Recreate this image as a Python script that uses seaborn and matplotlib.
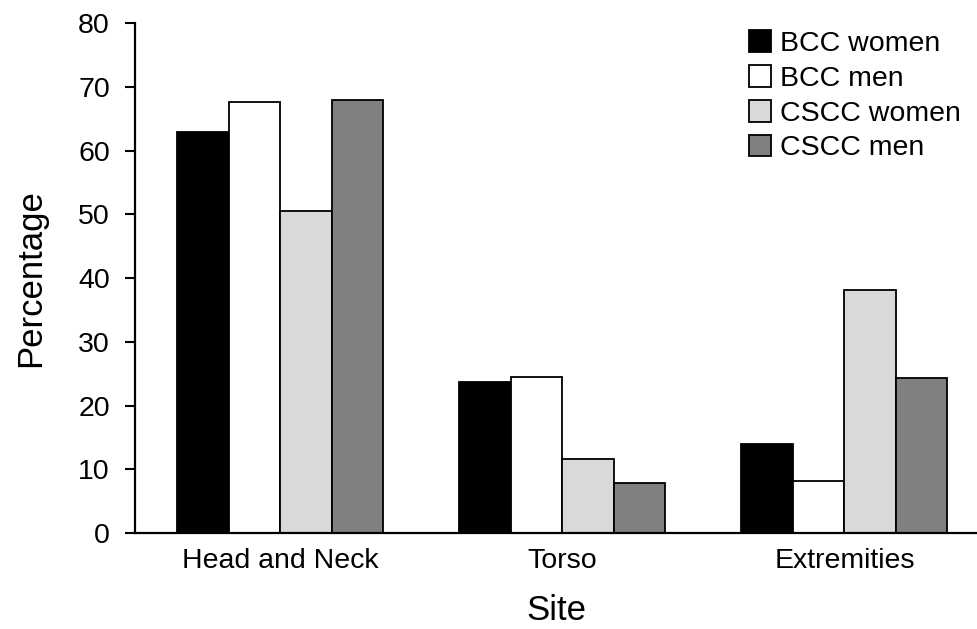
import pandas as pd
import matplotlib.pyplot as plt
import seaborn as sns

# values
sites = ['Head and Neck', 'Torso', 'Extremities']
groups = ['BCC women', 'BCC men', 'CSCC women', 'CSCC men']
bcc_women = [62.9, 23.7, 13.9]
bcc_men = [67.6, 24.5, 8.2]
cscc_women = [50.5, 11.6, 38.1]
cscc_men = [67.9, 7.8, 24.3]
y_ticks = [0, 10, 20, 30, 40, 50, 60, 70, 80]

COLORS = ['#000000', '#ffffff', '#d9d9d9', '#808080']

rows = []
for g, vals in zip(groups, [bcc_women, bcc_men, cscc_women, cscc_men]):
    for s, v in zip(sites, vals):
        rows.append({'Site': s, 'Group': g, 'Percentage': v})
df = pd.DataFrame(rows)

sns.set_theme(style='white')
plt.rcParams['font.family'] = ['Liberation Sans', 'DejaVu Sans']
plt.rcParams['text.color'] = 'black'

fig = plt.figure(figsize=(9.77, 6.29), dpi=100)
ax = fig.add_axes([0.138, 0.1526, 0.862, 0.8108])

sns.barplot(data=df, x='Site', y='Percentage', hue='Group', order=sites,
            hue_order=groups, palette=COLORS, width=0.73, ax=ax,
            edgecolor='black', linewidth=1.3, saturation=1, errorbar=None)

ax.set_ylim(0, 80)
ax.set_xlim(-0.515, 2.47)
ax.set_yticks(y_ticks)
ax.tick_params(axis='y', which='major', direction='out', length=7, width=1.5,
               labelsize=20.5, color='black', left=True, pad=11)
ax.tick_params(axis='x', length=0, labelsize=20.5, pad=11)
for side in ['top', 'right']:
    ax.spines[side].set_visible(False)
for side in ['left', 'bottom']:
    ax.spines[side].set_color('black')
    ax.spines[side].set_linewidth(1.6)

ax.set_xlabel('Site', fontsize=25, labelpad=14, color='black')
ax.set_ylabel('Percentage', fontsize=25, labelpad=22, color='black')
for lbl in ax.get_xticklabels() + ax.get_yticklabels():
    lbl.set_color('black')

handles, labels = ax.get_legend_handles_labels()
leg = ax.legend(handles, labels, loc='upper right', bbox_to_anchor=(0.995, 0.97),
                bbox_transform=fig.transFigure, frameon=False, fontsize=20.5,
                handlelength=0.8, handleheight=0.8, handletextpad=0.3,
                labelspacing=0.28, borderaxespad=0)
for t in leg.get_texts():
    t.set_color('black')

plt.savefig('out.png', dpi=100, facecolor='white')
plt.close()
